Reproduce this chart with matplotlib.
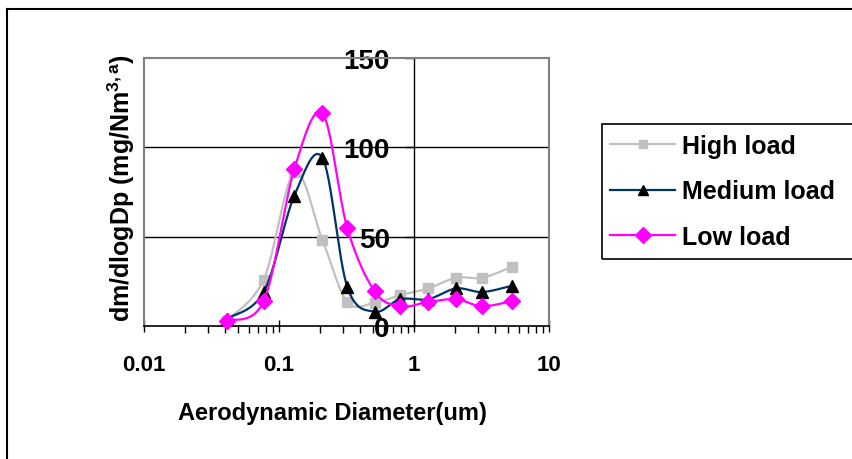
import numpy as np
import matplotlib
matplotlib.use("Agg")
import matplotlib.pyplot as plt
from matplotlib.lines import Line2D
from matplotlib.patches import Rectangle

plt.rcParams['font.family'] = ['Liberation Sans', 'DejaVu Sans']
plt.rcParams['font.weight'] = 'bold'
plt.rcParams['mathtext.fontset'] = 'custom'
plt.rcParams['mathtext.rm'] = 'Liberation Sans:bold'
plt.rcParams['mathtext.it'] = 'Liberation Sans:bold'
plt.rcParams['mathtext.bf'] = 'Liberation Sans:bold'

# ---- data ----
diameter = [0.041, 0.077, 0.13, 0.21, 0.32, 0.51, 0.79, 1.27, 2.05, 3.2, 5.3]
high_load = [3, 26, 86, 48, 13.5, 13, 17.3, 21, 27, 27, 33]
medium_load = [4, 19, 73, 94, 22, 8, 15, 15, 21, 19, 22.5]
low_load = [3, 14, 88, 119, 55, 19.5, 11, 13.4, 15, 11, 14]
series_names = ["High load", "Medium load", "Low load"]
x_tick_values = [0.01, 0.1, 1, 10]
x_tick_labels = ["0.01", "0.1", "1", "10"]
y_tick_values = [0, 50, 100, 150]

W, H = 852, 460
fig = plt.figure(figsize=(W / 100, H / 100), dpi=100)
L, R, T, B = 144, 549, 59, 327
ax = fig.add_axes([L / W, 1 - B / H, (R - L) / W, (B - T) / H])
ax.set_xscale('log')
ax.set_xlim(0.01, 10)
ax.set_ylim(0, 150)
ax.patch.set_alpha(0)

gray_border = '#808080'
for s in ['top', 'right']:
    ax.spines[s].set_color(gray_border)
    ax.spines[s].set_linewidth(1.5)
ax.spines['left'].set_position(('data', 1))
ax.spines['left'].set_color('black')
ax.spines['left'].set_linewidth(1.0)
ax.spines['bottom'].set_color('black')
ax.spines['bottom'].set_linewidth(1.2)
ax.add_line(Line2D([0, 0], [0, 1], transform=ax.transAxes, color=gray_border,
                   lw=1.5, clip_on=False))

for yv in [50, 100]:
    ax.axhline(yv, color='black', lw=1.0, zorder=0.5)

ax.set_yticks(y_tick_values)
ax.set_yticklabels([str(v) for v in y_tick_values], fontsize=20, fontweight='bold')
ax.tick_params(axis='y', direction='out', length=6.5, width=1, pad=11)
ax.set_xticks(x_tick_values)
ax.set_xticklabels(x_tick_labels, fontsize=16, fontweight='bold')
ax.xaxis.set_minor_locator(matplotlib.ticker.LogLocator(base=10, subs=np.arange(2, 10)))
ax.xaxis.set_minor_formatter(matplotlib.ticker.NullFormatter())
ax.tick_params(axis='x', which='major', direction='inout', length=9, width=1, pad=16)
ax.tick_params(axis='x', which='minor', direction='out', length=5, width=1)
for lab in ax.get_yticklabels():
    lab.set_zorder(5)


def smooth(xs, ys, n=30):
    """Excel-style smoothed line (uniform Catmull-Rom) in display space."""
    fig.canvas.draw()
    pts = ax.transData.transform(np.column_stack([xs, ys]))
    P = np.vstack([pts[0], pts, pts[-1]])
    out = []
    for i in range(1, len(P) - 2):
        p0, p1, p2, p3 = P[i - 1], P[i], P[i + 1], P[i + 2]
        c1 = p1 + (p2 - p0) / 6.0
        c2 = p2 - (p3 - p1) / 6.0
        t = np.linspace(0, 1, n)[:, None]
        seg = ((1 - t) ** 3) * p1 + 3 * ((1 - t) ** 2) * t * c1 + 3 * (1 - t) * t ** 2 * c2 + t ** 3 * p2
        out.append(seg if i == 1 else seg[1:])
    out = np.vstack(out)
    d = ax.transData.inverted().transform(out)
    return d[:, 0], d[:, 1]


styles = [
    dict(color='#C0C0C0', mfc='#C0C0C0', mec='#C0C0C0', marker='s', ms=7),
    dict(color='#003366', mfc='black', mec='black', marker='^', ms=8),
    dict(color='#FF00FF', mfc='#FF00FF', mec='#FF00FF', marker='D', ms=8.5),
]
handles = []
for vals, st, name, z in zip([high_load, medium_load, low_load], styles, series_names, [2, 3, 4]):
    sx, sy = smooth(diameter, vals)
    ax.plot(sx, sy, color=st['color'], lw=1.6, zorder=z, clip_on=False)
    ax.plot(diameter, vals, ls='none', marker=st['marker'], ms=st['ms'],
            mfc=st['mfc'], mec=st['mec'], zorder=z, clip_on=False)
    handles.append(Line2D([], [], color=st['color'], lw=1.6, marker=st['marker'],
                          ms=st['ms'] * 0.9, mfc=st['mfc'], mec=st['mec']))

# axis titles
fig.text(332 / W, 1 - 414 / H, "Aerodynamic Diameter(um)", ha='center', va='center',
         fontsize=17, fontweight='bold')
fig.text(121 / W, 1 - 187.5 / H, "dm/dlogDp (mg/Nm$^{3,a}$)", ha='center', va='center',
         rotation=90, fontsize=18, fontweight='bold')

# legend
leg = fig.legend(handles, series_names, loc='upper left',
                 bbox_to_anchor=(610 / W, 1 - 135 / H), bbox_transform=fig.transFigure,
                 frameon=False, fontsize=18, handlelength=2.6, handletextpad=0.3,
                 labelspacing=0.86, borderpad=0, borderaxespad=0, numpoints=1)
for t in leg.get_texts():
    t.set_fontweight('bold')
fig.add_artist(Rectangle((602 / W, 1 - 260 / H), (W + 20 - 602) / W, 135 / H,
                         transform=fig.transFigure, fill=False, ec='black', lw=1.2,
                         clip_on=False))

# outer chart border
fig.add_artist(Line2D([7 / W, 7 / W], [1 - 10 / H, -0.1], transform=fig.transFigure,
                      color='black', lw=1.5))
fig.add_artist(Line2D([7 / W, 1.1], [1 - 10 / H, 1 - 10 / H], transform=fig.transFigure,
                      color='black', lw=1.5))

fig.savefig('out.png', dpi=100)
